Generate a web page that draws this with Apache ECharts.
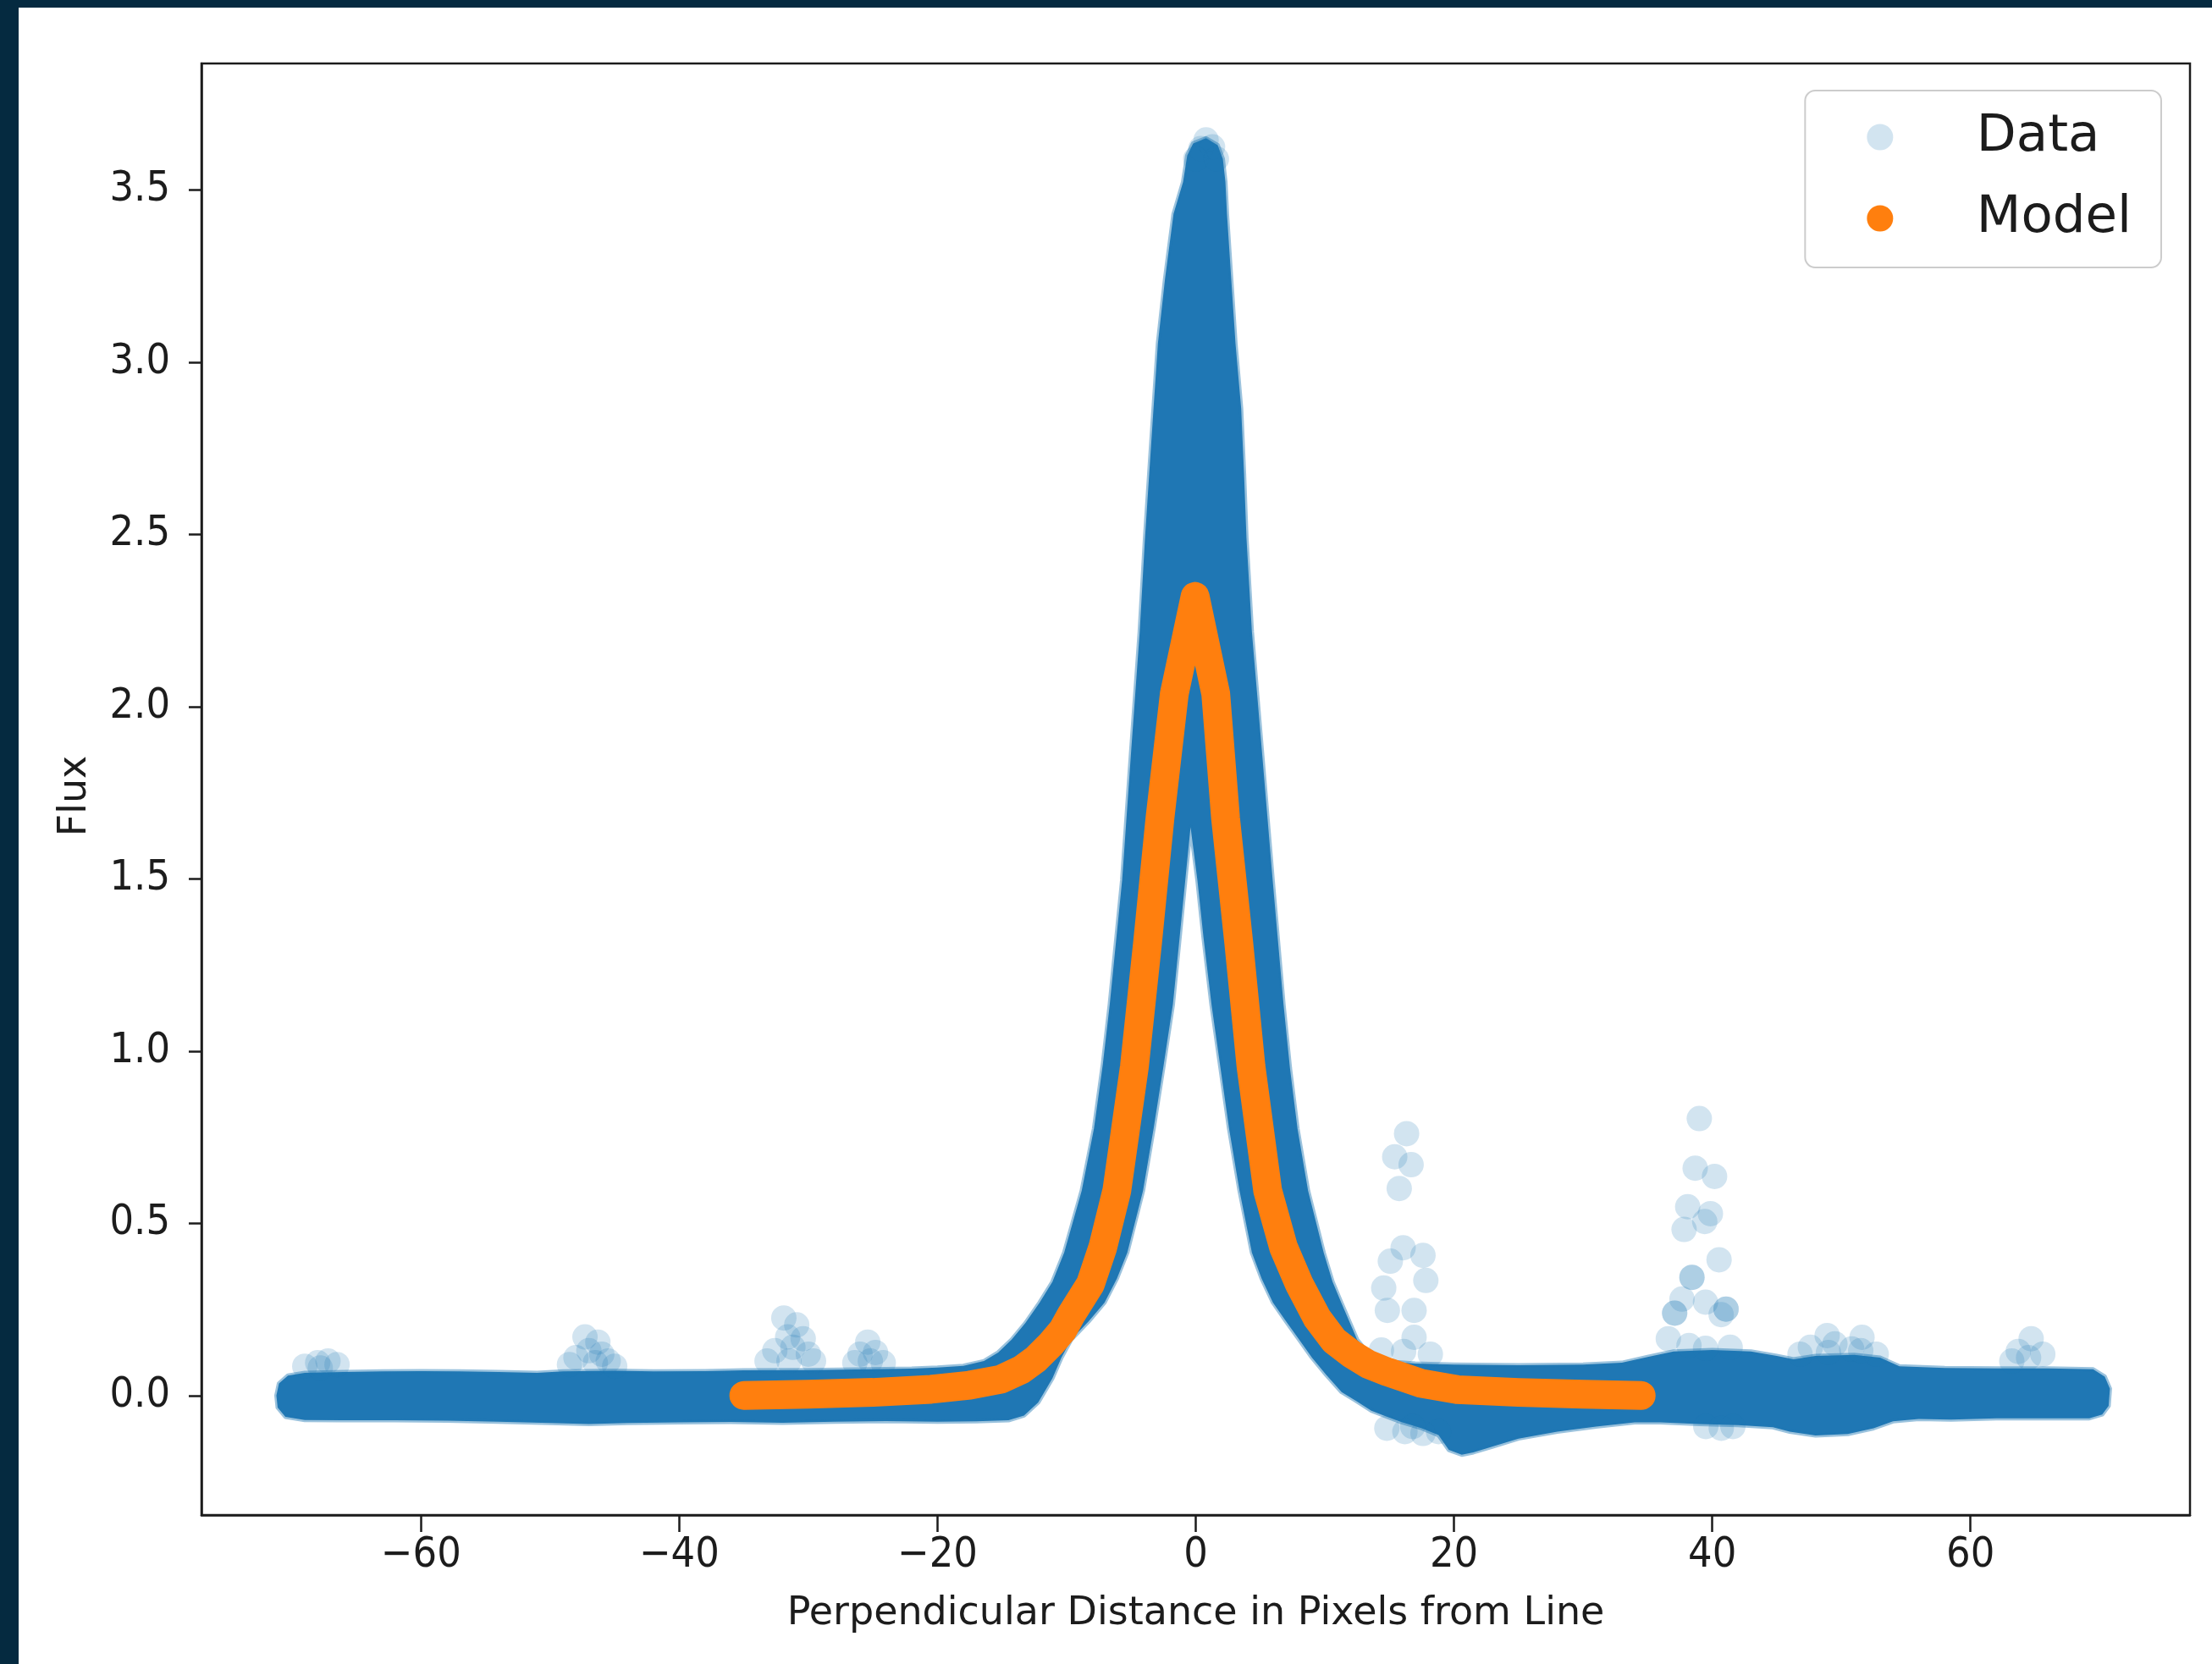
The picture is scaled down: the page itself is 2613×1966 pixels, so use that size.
<!DOCTYPE html>
<html><head><meta charset="utf-8">
<script src="https://cdn.jsdelivr.net/npm/echarts@6/dist/echarts.min.js"></script>
<style>
html,body{margin:0;padding:0;width:2613px;height:1966px;overflow:hidden;background:#052a40;}
#paper{position:absolute;left:22px;top:9px;right:0;bottom:0;background:#ffffff;}
#chart{position:absolute;left:0;top:0;width:2613px;height:1966px;}
</style></head><body>
<div id="paper"></div><div id="chart"></div>
<script>
// ---- tick values ----
const xTicks = [-60, -40, -20, 0, 20, 40, 60];
const yTicks = [0.0, 0.5, 1.0, 1.5, 2.0, 2.5, 3.0, 3.5];

// ---- Data: outline of the dense (saturated) point cloud ----
const cloudX = [-71.2,-71.0,-70.3,-69,-66,-63,-60,-57,-54,-51,-49,-45,-42,-38,-35,-30,-25,-22,-20,-18,-16.4,-15.3,-14.26,-13.2,-12.09,-11.1,-10.19,-8.83,-7.88,-7.2,-6.66,-5.7,-5.03,-4.34,-3.93,-3.6,-3.27,-2.93,-2.38,-1.72,-0.98,-0.66,-0.2,0.8,1.7,2.1,2.3,2.42,2.75,3.08,3.52,3.74,3.93,4.1,4.35,5.16,5.96,6.8,7.3,7.88,8.7,9.91,10.6,11.27,12.5,13.3,14.0,15.5,17,20,25,30,33,35,37,40,43,45,46.3,48,51,53,54.5,58,62,66,69.5,70.4,70.8,70.7,70.2,69.2,
66,62,58.5,56,54,52.5,50.5,48,46,44.7,42,39,36,34,31,28,25,23,21.5,20.6,19.6,18.8,17.5,15.9,14.7,13.6,12.4,11.3,10.1,9.0,8.01,7.0,5.98,5.1,4.35,3.39,2.58,1.9,1.22,0.6,0.13,-0.4,-0.81,-1.3,-1.77,-2.5,-3.26,-4.08,-5.3,-6.1,-7.06,-8.3,-9.65,-10.4,-11.1,-12.2,-13.3,-14.5,-17,-20,-24,-28,-32,-36,-40,-44,-47,-50,-54,-58,-62,-66,-69,-70.5,-71.1];
const cloudY = [0.0,0.035,0.058,0.066,0.068,0.07,0.071,0.07,0.068,0.066,0.07,0.072,0.07,0.071,0.073,0.074,0.076,0.078,0.081,0.086,0.1,0.125,0.162,0.21,0.27,0.33,0.415,0.595,0.775,0.96,1.135,1.496,1.856,2.217,2.489,2.678,2.865,3.054,3.241,3.43,3.523,3.60,3.635,3.65,3.63,3.59,3.523,3.43,3.241,3.054,2.865,2.678,2.489,2.38,2.217,1.856,1.496,1.135,0.95,0.775,0.595,0.415,0.33,0.27,0.162,0.125,0.108,0.097,0.093,0.09,0.088,0.09,0.095,0.112,0.128,0.132,0.128,0.115,0.105,0.115,0.118,0.11,0.085,0.08,0.079,0.079,0.076,0.055,0.02,-0.03,-0.055,-0.066,
-0.066,-0.066,-0.07,-0.068,-0.075,-0.095,-0.112,-0.116,-0.105,-0.092,-0.086,-0.083,-0.078,-0.078,-0.09,-0.105,-0.125,-0.148,-0.165,-0.172,-0.158,-0.115,-0.095,-0.077,-0.06,-0.044,-0.015,0.01,0.06,0.11,0.162,0.215,0.27,0.34,0.415,0.595,0.775,0.955,1.135,1.33,1.496,1.65,1.496,1.31,1.135,0.955,0.775,0.595,0.415,0.34,0.27,0.215,0.162,0.11,0.05,-0.02,-0.058,-0.072,-0.075,-0.076,-0.074,-0.076,-0.079,-0.077,-0.078,-0.08,-0.083,-0.08,-0.076,-0.073,-0.072,-0.072,-0.071,-0.062,-0.035];

// ---- Data: sparse, individually visible points ----
const sparseX = [-69.0,-68.0,-67.2,-66.5,-67.8,
  -47.3,-46.3,-47.0,-46.0,-48.0,-45.5,-48.5,-46.5,-45.0,
  -31.9,-30.9,-31.6,-30.4,-32.6,-31.2,-30.0,-33.2,-29.6,-31.5,
  -25.4,-26.0,-24.8,-25.2,-24.2,-26.4,
  0.8,0.4,1.3,0.0,1.6,
  16.33,15.41,16.68,15.76,16.06,15.07,17.6,17.82,14.56,14.84,16.91,16.91,14.38,16.1,18.17,
  39.0,38.68,40.18,38.1,39.86,37.82,39.42,40.53,38.43,38.43,37.09,37.09,41.07,41.07,37.66,39.48,40.69,36.6,38.2,41.39,39.48,
  48.9,51.6,47.6,49.5,50.8,52.7,46.8,49.0,51.5,
  64.7,63.7,65.6,64.5,63.2,
  14.8,16.2,17.6,18.8,16.8,39.5,40.7,41.6];
const sparseY = [0.085,0.095,0.10,0.09,0.08,
  0.17,0.155,0.13,0.12,0.11,0.10,0.09,0.095,0.085,
  0.225,0.205,0.17,0.165,0.13,0.14,0.12,0.10,0.10,0.10,
  0.155,0.12,0.125,0.10,0.095,0.095,
  3.645,3.62,3.625,3.59,3.59,
  0.760,0.693,0.670,0.601,0.429,0.390,0.407,0.334,0.312,0.247,0.247,0.169,0.132,0.128,0.12,
  0.804,0.660,0.636,0.548,0.528,0.482,0.505,0.394,0.343,0.343,0.239,0.239,0.251,0.251,0.280,0.271,0.235,0.165,0.145,0.140,0.137,
  0.174,0.169,0.14,0.15,0.135,0.12,0.12,0.125,0.13,
  0.165,0.128,0.12,0.11,0.10,
  -0.095,-0.105,-0.11,-0.105,-0.09,-0.09,-0.095,-0.09];

// ---- Model ----
const modelX = [-35,-30,-25,-20.5,-17.5,-15.1,-13.5,-12.4,-11.2,-10.3,-9.65,-8.15,-7.2,-6.11,-4.75,-3.73,-2.77,-1.66,-0.05,1.55,2.31,3.33,4.28,5.57,6.8,8.01,9.4,10.7,12.09,13.4,14.81,17.5,20.24,25,30,34.5];
const modelY = [0.0,0.004,0.009,0.018,0.03,0.047,0.075,0.105,0.15,0.19,0.234,0.324,0.43,0.595,0.955,1.315,1.676,2.037,2.32,2.037,1.676,1.315,0.955,0.595,0.43,0.324,0.225,0.16,0.12,0.09,0.069,0.035,0.017,0.009,0.004,0.0];

const INK = '#1c1c1c';
const TICKFONT = '"DejaVu Sans Condensed", "DejaVu Sans", sans-serif';
const FONT = '"DejaVu Sans", sans-serif';

const chart = echarts.init(document.getElementById('chart'), null, {renderer: 'canvas'});
const minus = v => (v < 0 ? '\u2212' + Math.abs(v) : String(v));

chart.setOption({
  animation: false,
  backgroundColor: 'transparent',
  grid: {left: 238, top: 75, width: 2349, height: 1715, show: true, borderColor: INK, borderWidth: 2.5, backgroundColor: 'transparent'},
  legend: {
    orient: 'vertical', right: 60, top: 107, align: 'left',
    padding: [24, 35, 27, 73],
    itemWidth: 60, itemHeight: 31, itemGap: 34,
    backgroundColor: 'rgba(255,255,255,0.8)', borderColor: '#cccccc', borderWidth: 2, borderRadius: 12,
    textStyle: {fontSize: 61, color: INK, fontFamily: FONT, lineHeight: 62, padding: [0, 0, 0, 79]},
    data: [
      {name: 'Data', icon: 'circle', itemStyle: {color: 'rgba(31,119,180,0.2)', borderWidth: 0}},
      {name: 'Model', icon: 'circle', itemStyle: {color: '#ff7f0e', borderWidth: 0}}
    ]
  },
  xAxis: {
    type: 'value', min: -77, max: 77,
    axisLine: {show: true, onZero: false, lineStyle: {color: INK, width: 2.5}},
    axisTick: {show: true, customValues: xTicks, length: 20, lineStyle: {color: INK, width: 2.5}},
    axisLabel: {customValues: xTicks, formatter: minus, margin: 23, fontSize: 50, color: INK, fontFamily: TICKFONT},
    splitLine: {show: false},
    name: 'Perpendicular Distance in Pixels from Line', nameLocation: 'middle', nameGap: 94,
    nameTextStyle: {fontSize: 46, color: INK, fontFamily: FONT}
  },
  yAxis: {
    type: 'value', min: -0.347, max: 3.867,
    axisLine: {show: true, onZero: false, lineStyle: {color: INK, width: 2.5}},
    axisTick: {show: true, customValues: yTicks, length: 15, lineStyle: {color: INK, width: 2.5}},
    axisLabel: {customValues: yTicks, formatter: v => v.toFixed(1), margin: 37, fontSize: 50, color: INK, fontFamily: TICKFONT},
    splitLine: {show: false},
    name: 'Flux', nameLocation: 'middle', nameGap: 126, nameRotate: 90,
    nameTextStyle: {fontSize: 46, color: INK, fontFamily: FONT, padding: [0, 16, 0, 0]}
  },
  series: [
    {
      type: 'custom', name: 'Data', coordinateSystem: 'cartesian2d',
      data: [[0, 0]], encode: {x: 0, y: 1}, clip: true, z: 1,
      renderItem: function (params, api) {
        const pts = cloudX.map((x, i) => api.coord([x, cloudY[i]]));
        return {type: 'polygon', shape: {points: pts},
          style: {fill: '#1f77b4', stroke: 'rgba(31,119,180,0.45)', lineWidth: 5, lineJoin: 'round'}};
      }
    },
    {
      type: 'scatter', name: 'Data', z: 2,
      data: sparseX.map((x, i) => [x, sparseY[i]]),
      symbol: 'circle', symbolSize: 30,
      itemStyle: {color: '#1f77b4', opacity: 0.2},
      emphasis: {disabled: true}
    },
    {
      type: 'line', name: 'Model', z: 3,
      data: modelX.map((x, i) => [x, modelY[i]]),
      showSymbol: false, symbol: 'circle',
      itemStyle: {color: '#ff7f0e'},
      lineStyle: {color: '#ff7f0e', width: 34, cap: 'round', join: 'round'},
      emphasis: {disabled: true}
    }
  ]
});
</script></body></html>
